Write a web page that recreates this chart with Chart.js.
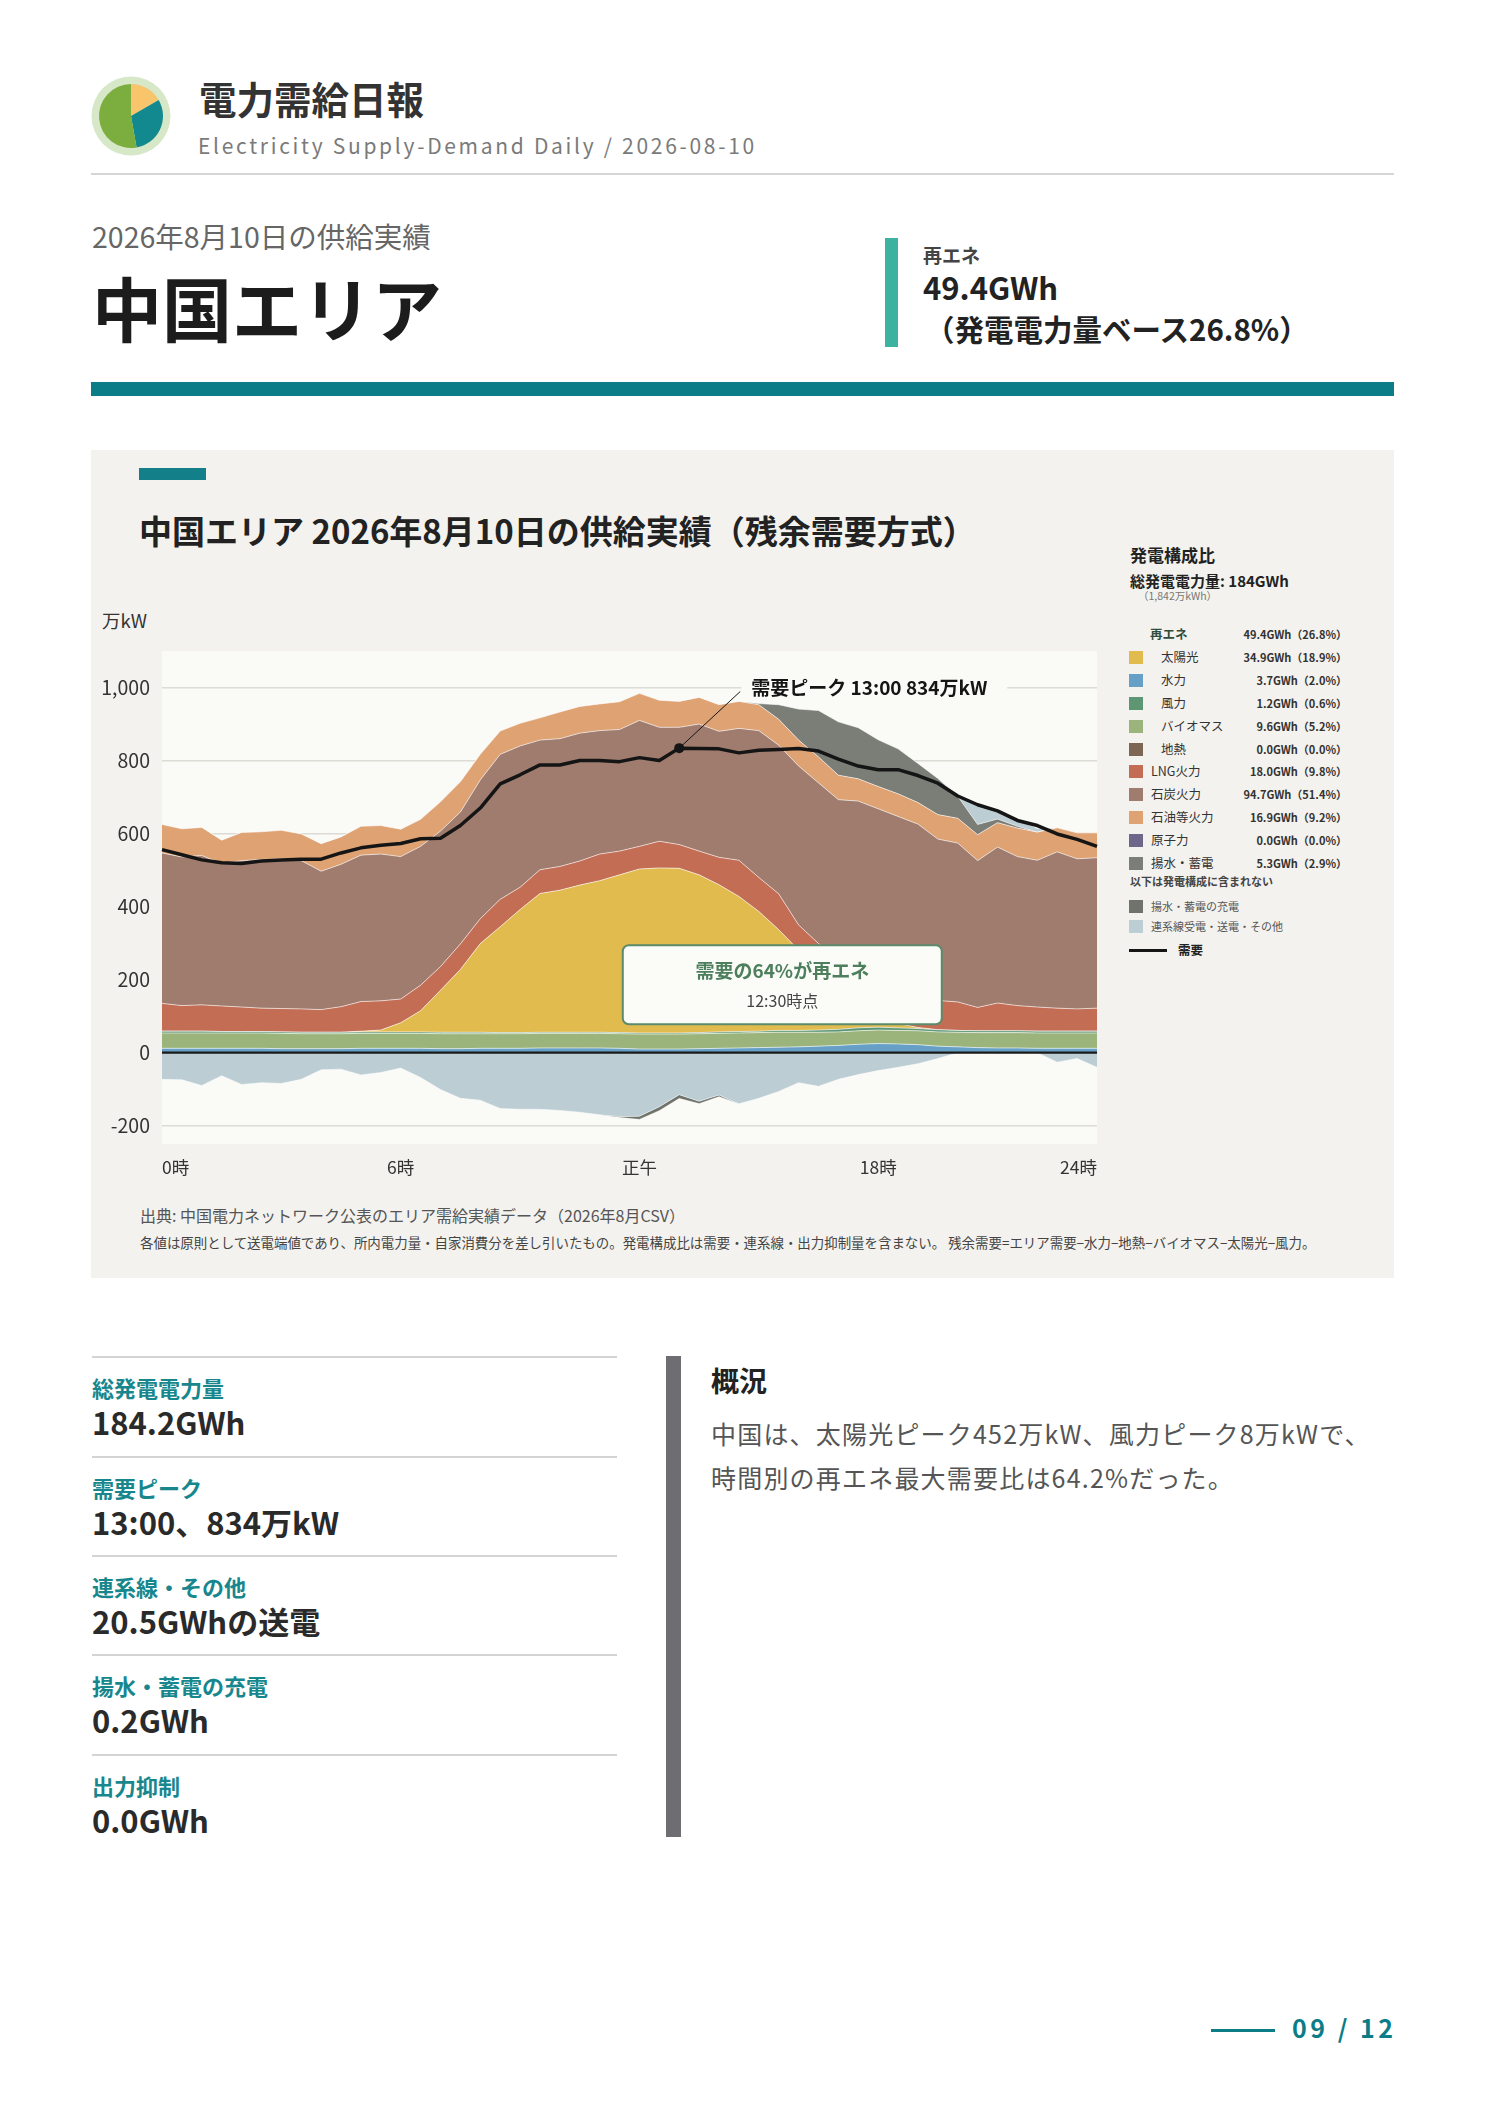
<!DOCTYPE html>
<html lang="ja">
<head>
<meta charset="utf-8">
<title>電力需給日報 中国エリア 2026-08-10</title>
<script src="https://cdn.jsdelivr.net/npm/chart.js@4.4.1/dist/chart.umd.min.js"></script>
<style>
  html, body { margin: 0; padding: 0; background: #fff; }
  body {
    width: 1488px; height: 2105px; position: relative; overflow: hidden;
    font-family: "Noto Sans CJK JP", "Noto Sans", sans-serif; color: #222;
  }
  .abs { position: absolute; white-space: nowrap; line-height: 1; }
  .bold { font-weight: 700; }
  #chartBox { position: absolute; left: 91px; top: 640px; width: 1020px; height: 540px; }
  .lg-sw { position: absolute; width: 14px; height: 13px; }
  .lg-name { font-size: 12.5px; color: #333; }
  .lg-val { font-size: 11px; color: #333; font-weight: 700; text-align: right; }
  .kpi-line { position: absolute; left: 92px; width: 525px; height: 2px; background: #d4d4d4; }
  .kpi-label { font-size: 22px; font-weight: 700; color: #17878d; }
  .kpi-value { font-size: 31px; font-weight: 700; color: #2a2a2a; }
</style>
</head>
<body>

<!-- header -->
<svg class="abs" style="left:91px;top:76px" width="80" height="80" viewBox="0 0 80 80">
  <circle cx="40" cy="40" r="39.5" fill="#d6e8c8"/>
  <path d="M40 40 L40 8 A32 32 0 0 1 67.7 24 Z" fill="#f8c46c"/>
  <path d="M40 40 L67.7 24 A32 32 0 0 1 45.6 71.5 Z" fill="#11898f"/>
  <path d="M40 40 L45.6 71.5 A32 32 0 1 1 40 8 Z" fill="#7cae3f"/>
</svg>
<div class="abs bold" style="left:199px;top:79px;font-size:37.5px;color:#333">電力需給日報</div>
<div class="abs" style="left:198px;top:135px;font-size:21px;color:#7a7a7a;letter-spacing:2.7px">Electricity Supply-Demand Daily / 2026-08-10</div>
<div class="abs" style="left:91px;top:173px;width:1303px;height:2px;background:#d6d6d6"></div>

<div class="abs" style="left:92px;top:222px;font-size:28.5px;color:#666">2026年8月10日の供給実績</div>
<div class="abs bold" style="left:92px;top:272px;font-size:70px;color:#1c1c1c">中国エリア</div>
<div class="abs" style="left:885px;top:238px;width:13px;height:109px;background:#3bb3a0"></div>
<div class="abs bold" style="left:923px;top:245px;font-size:19px;color:#444">再エネ</div>
<div class="abs bold" style="left:923px;top:271px;font-size:31px;color:#222">49.4GWh</div>
<div class="abs bold" style="left:925px;top:314px;font-size:29.5px;color:#222">（発電電力量ベース26.8%）</div>
<div class="abs" style="left:91px;top:382px;width:1303px;height:14px;background:#0b7d87"></div>

<!-- chart panel -->
<div class="abs" style="left:91px;top:450px;width:1303px;height:828px;background:#f3f2ee"></div>
<div class="abs" style="left:139px;top:468px;width:67px;height:12px;background:#127f89"></div>
<div class="abs bold" style="left:139px;top:514px;font-size:33px;color:#222">中国エリア 2026年8月10日の供給実績（残余需要方式）</div>
<div class="abs" style="left:102px;top:611px;font-size:18.5px;color:#333">万kW</div>
<div id="chartBox"><canvas id="supplyChart"></canvas></div>

<div id="legend"></div>

<div class="abs" style="left:140px;top:1207px;font-size:16px;color:#555">出典: 中国電力ネットワーク公表のエリア需給実績データ（2026年8月CSV）</div>
<div class="abs" style="left:140px;top:1236px;font-size:13.45px;color:#444">各値は原則として送電端値であり、所内電力量・自家消費分を差し引いたもの。発電構成比は需要・連系線・出力抑制量を含まない。 残余需要=エリア需要−水力−地熱−バイオマス−太陽光−風力。</div>

<!-- KPI -->
<div id="kpis"></div>

<!-- 概況 -->
<div class="abs" style="left:666px;top:1356px;width:15px;height:481px;background:#6e6e72"></div>
<div class="abs bold" style="left:711px;top:1366px;font-size:28px;color:#222">概況</div>
<div class="abs" style="left:711px;top:1411px;font-size:25px;line-height:44px;color:#555;letter-spacing:1.2px">中国は、太陽光ピーク452万kW、風力ピーク8万kWで、<br>時間別の再エネ最大需要比は64.2%だった。</div>

<!-- page number -->
<div class="abs" style="left:1211px;top:2029px;width:64px;height:3px;background:#0b7d87"></div>
<div class="abs bold" style="left:1292px;top:2015px;font-size:25px;color:#0b7d87;letter-spacing:3.5px">09 / 12</div>

<script>
'use strict';

// 30-minute slots
const timeLabels = ['0:00', '0:30', '1:00', '1:30', '2:00', '2:30', '3:00', '3:30',
  '4:00', '4:30', '5:00', '5:30', '6:00', '6:30', '7:00', '7:30',
  '8:00', '8:30', '9:00', '9:30', '10:00', '10:30', '11:00', '11:30',
  '12:00', '12:30', '13:00', '13:30', '14:00', '14:30', '15:00', '15:30',
  '16:00', '16:30', '17:00', '17:30', '18:00', '18:30', '19:00', '19:30',
  '20:00', '20:30', '21:00', '21:30', '22:00', '22:30', '23:00', '23:30'];

const xTickIndex = [0, 12, 24, 36, 47];
const xTickText = ['0時', '6時', '正午', '18時', '24時'];
const yTickValues = [-200, 0, 200, 400, 600, 800, 1000];

// generation by source (万kW)
const nuclear = [0, 0, 0, 0, 0, 0, 0, 0, 0, 0, 0, 0, 0, 0, 0, 0,
  0, 0, 0, 0, 0, 0, 0, 0, 0, 0, 0, 0, 0, 0, 0, 0,
  0, 0, 0, 0, 0, 0, 0, 0, 0, 0, 0, 0, 0, 0, 0, 0];
const hydro = [12, 12, 12, 12, 12, 12, 11, 11, 11, 11, 12, 12, 12, 12, 11, 11,
  12, 12, 12, 13, 13, 13, 13, 12, 10, 10, 10, 11, 12, 13, 14, 15,
  16, 18, 20, 23, 25, 24, 22, 18, 16, 14, 13, 13, 12, 12, 12, 12];
const biomass = [42, 42, 42, 42, 42, 42, 42, 41, 41, 41, 41, 41, 41, 41, 41, 41,
  40, 40, 40, 40, 40, 40, 40, 40, 41, 41, 41, 41, 41, 41, 41, 41,
  40, 38, 37, 37, 37, 37, 38, 39, 40, 41, 42, 42, 42, 42, 42, 42];
const wind = [5, 5, 5, 4, 4, 4, 4, 4, 4, 4, 4, 4, 4, 4, 4, 4,
  4, 3, 3, 3, 3, 3, 3, 3, 3, 3, 3, 3, 4, 4, 4, 5,
  5, 6, 7, 8, 8, 7, 6, 6, 5, 5, 5, 5, 5, 5, 5, 5];
const geothermal = [0, 0, 0, 0, 0, 0, 0, 0, 0, 0, 0, 0, 0, 0, 0, 0,
  0, 0, 0, 0, 0, 0, 0, 0, 0, 0, 0, 0, 0, 0, 0, 0,
  0, 0, 0, 0, 0, 0, 0, 0, 0, 0, 0, 0, 0, 0, 0, 0];
const solar = [0, 0, 0, 0, 0, 0, 0, 0, 0, 0, 2, 5, 25, 58, 115, 172,
  243, 290, 337, 380, 389, 403, 415, 432, 449, 452, 451, 432, 403, 370, 328, 276,
  220, 165, 115, 70, 35, 12, 3, 0, 0, 0, 0, 0, 0, 0, 0, 0];
const lng = [76, 70, 72, 70, 67, 64, 64, 64, 62, 70, 81, 80, 65, 70, 65, 70,
  68, 75, 61, 65, 65, 66, 73, 65, 62, 73, 65, 65, 75, 99, 93, 98,
  69, 72, 76, 66, 72, 75, 78, 80, 78, 64, 76, 69, 66, 63, 61, 63];
const coal = [412, 407, 409, 390, 401, 407, 410, 406, 379, 390, 401, 402, 390, 380, 371, 361,
  380, 397, 387, 355, 350, 350, 338, 333, 345, 312, 321, 348, 345, 361, 402, 407,
  435, 440, 438, 485, 491, 492, 479, 442, 435, 402, 427, 408, 402, 428, 411, 412];
const oil = [78, 77, 77, 64, 77, 76, 78, 73, 75, 75, 79, 78, 75, 74, 80, 83,
  70, 64, 62, 61, 73, 73, 73, 76, 74, 74, 71, 73, 73, 74, 71, 71,
  71, 71, 67, 61, 61, 62, 59, 67, 68, 71, 67, 78, 77, 66, 71, 68];
const pumped = [0, 0, 0, 0, 0, 0, 0, 0, 0, 0, 0, 0, 0, 0, 0, 0,
  0, 0, 0, 0, 0, 0, 0, 0, 0, 0, 0, 0, 0, 0, 3, 40,
  85, 127, 146, 140, 128, 123, 107, 99, 60, 28, 10, 5, 0, 0, 0, 0];
// interconnection: + receive, - send
const tieLine = [-73, -74, -90, -63, -87, -82, -84, -73, -47, -45, -61, -54, -42, -68, -101, -125,
  -130, -153, -155, -155, -158, -163, -170, -175, -174, -148, -115, -133, -116, -140, -125, -106,
  -82, -92, -73, -60, -49, -40, -30, -16, 5, 56, 27, 21, 10, -26, -16, -40];
const pumpCharge = [0, 0, 0, 0, 0, 0, 0, 0, 0, 0, 0, 0, 0, 0, 0, 0,
  0, 0, 0, 0, 0, 0, 0, -2, -8, -10, -10, -6, -4, 0, 0, 0,
  0, 0, 0, 0, 0, 0, 0, 0, 0, 0, 0, 0, 0, 0, 0, 0];
const demand = [556, 542, 528, 520, 518, 525, 528, 530, 530, 547, 561, 568, 573, 586, 587, 622,
  670, 736, 761, 788, 788, 800, 800, 797, 808, 800, 834, 833, 832, 821, 828, 830,
  833, 826, 804, 785, 775, 775, 759, 738, 703, 679, 662, 636, 622, 599, 584, 565];

// legend table
const legendNames = ['太陽光', '水力', '風力', 'バイオマス', '地熱', 'LNG火力', '石炭火力', '石油等火力', '原子力', '揚水・蓄電'];
const legendGWh = ['34.9GWh', '3.7GWh', '1.2GWh', '9.6GWh', '0.0GWh', '18.0GWh', '94.7GWh', '16.9GWh', '0.0GWh', '5.3GWh'];
const legendPct = ['18.9%', '2.0%', '0.6%', '5.2%', '0.0%', '9.8%', '51.4%', '9.2%', '0.0%', '2.9%'];

// colours
const C = {
  solar: '#e2bb4f', hydro: '#66a0c6', wind: '#5c9672', biomass: '#9bb47b', geothermal: '#7d6654',
  lng: '#c36d55', coal: '#a07c6f', oil: '#dfa273', nuclear: '#6e678a', pumped: '#7a7e76',
  charge: '#6f736b', tie: '#bccdd4'
};

const tieIn = tieLine.map(v => (v > 0 ? v : 0));
const tieOut = tieLine.map(v => (v < 0 ? v : 0));

// ---- HTML legend ----
let legendHtml = '';
function addDiv(style, cls, text) {
  legendHtml += `<div class="abs ${cls}" style="${style}">${text}</div>`;
}
addDiv('left:1130px;top:546px;font-size:17px;color:#222', 'bold', '発電構成比');
addDiv('left:1130px;top:573px;font-size:15px;color:#222', 'bold', '総発電電力量: 184GWh');
addDiv('left:1138px;top:591px;font-size:10.5px;color:#777', '', '（1,842万kWh）');
addDiv('left:1150px;top:628px;font-size:12.5px;color:#2f4d3c', 'bold', '再エネ');
addDiv('left:1197px;top:629px;width:150px', 'lg-val', '49.4GWh（26.8%）');

const legendColors = [C.solar, C.hydro, C.wind, C.biomass, C.geothermal, C.lng, C.coal, C.oil, C.nuclear, C.pumped];
const rowY = [657, 680, 703, 726, 749, 771, 794, 817, 840, 863];
for (let i = 0; i < legendNames.length; i++) {
  let y = rowY[i];
  let nameX = i < 5 ? 1161 : 1151;
  legendHtml += `<div class="lg-sw" style="left:1129px;top:${y - 6.5}px;background:${legendColors[i]}"></div>`;
  addDiv(`left:${nameX}px;top:${y - 6.5}px`, 'lg-name', legendNames[i]);
  addDiv(`left:1197px;top:${y - 5.5}px;width:150px`, 'lg-val', `${legendGWh[i]}（${legendPct[i]}）`);
}
addDiv('left:1130px;top:876px;font-size:11px;color:#444', 'bold', '以下は発電構成に含まれない');
legendHtml += `<div class="lg-sw" style="left:1129px;top:900px;background:${C.charge}"></div>`;
addDiv('left:1151px;top:901px;font-size:11px;color:#555', '', '揚水・蓄電の充電');
legendHtml += `<div class="lg-sw" style="left:1129px;top:920px;background:${C.tie}"></div>`;
addDiv('left:1151px;top:921px;font-size:11px;color:#555', '', '連系線受電・送電・その他');
legendHtml += '<div class="abs" style="left:1129px;top:949px;width:38px;height:3px;background:#151515"></div>';
addDiv('left:1178px;top:944px;font-size:12.5px;color:#222', 'bold', '需要');
document.getElementById('legend').innerHTML = legendHtml;

// ---- KPI list ----
const kpiLabels = ['総発電電力量', '需要ピーク', '連系線・その他', '揚水・蓄電の充電', '出力抑制'];
const kpiValues = ['184.2GWh', '13:00、834万kW', '20.5GWhの送電', '0.2GWh', '0.0GWh'];
const kpiTop = [1356, 1456, 1555, 1654, 1754];
let kpiHtml = '';
for (let i = 0; i < kpiLabels.length; i++) {
  kpiHtml += `<div class="kpi-line" style="top:${kpiTop[i]}px"></div>`;
  kpiHtml += `<div class="abs kpi-label" style="left:92px;top:${kpiTop[i] + 20}px">${kpiLabels[i]}</div>`;
  kpiHtml += `<div class="abs kpi-value" style="left:92px;top:${kpiTop[i] + 50}px">${kpiValues[i]}</div>`;
}
document.getElementById('kpis').innerHTML = kpiHtml;

// ---- chart ----
const FONT = '"Noto Sans CJK JP", "Noto Sans", sans-serif';
const PLOT_BG = '#fafaf6';

function area(label, data, color, first) {
  return {
    label: label,
    data: data,
    backgroundColor: color,
    borderColor: 'rgba(255,255,255,0.6)',
    borderWidth: 1,
    fill: first ? 'origin' : '-1',
    stack: 'pos',
    pointRadius: 0,
    tension: 0
  };
}

const zeroSeries = (arr) => arr.every(v => v === 0);

const datasets = [
  {
    label: '需要', data: demand, borderColor: '#151515', borderWidth: 3.5,
    fill: false, stack: 'demand', pointRadius: 0, tension: 0, borderJoinStyle: 'round'
  },
  area('水力', hydro, C.hydro, true),
  area('バイオマス', biomass, C.biomass),
  area('風力', wind, C.wind),
  area('地熱', geothermal, C.geothermal),
  area('原子力', nuclear, C.nuclear),
  area('太陽光', solar, C.solar),
  area('LNG火力', lng, C.lng),
  area('石炭火力', coal, C.coal),
  area('石油等火力', oil, C.oil),
  area('揚水・蓄電', pumped, C.pumped),
  area('連系線受電', tieIn, C.tie),
  {
    label: '連系線送電', data: tieOut, backgroundColor: C.tie, borderColor: 'rgba(255,255,255,0.5)',
    borderWidth: 1, fill: 'origin', stack: 'neg', pointRadius: 0, tension: 0
  },
  {
    label: '揚水・蓄電の充電', data: pumpCharge, backgroundColor: C.charge, borderColor: 'rgba(255,255,255,0.4)',
    borderWidth: 0.5, fill: '-1', stack: 'neg', pointRadius: 0, tension: 0
  }
];
datasets.forEach(ds => { if (ds.fill !== false && zeroSeries(ds.data)) ds.borderWidth = 0; });

const decorPlugin = {
  id: 'decor',
  beforeDraw(chart) {
    const { ctx, chartArea: a } = chart;
    ctx.save();
    ctx.fillStyle = PLOT_BG;
    ctx.fillRect(a.left, a.top, a.right - a.left, a.bottom - a.top);
    ctx.restore();
  },
  beforeDatasetsDraw(chart) {
    // backing for the peak label so the grid line breaks behind it
    const { ctx, scales: { x, y } } = chart;
    const peakIdx = demand.indexOf(Math.max(...demand));
    const px = x.getPixelForValue(peakIdx);
    const ly = y.getPixelForValue(1000);
    ctx.save();
    ctx.fillStyle = PLOT_BG;
    ctx.fillRect(px + 62, ly - 13, 266, 26);
    ctx.restore();
  },
  afterDatasetsDraw(chart) {
    const { ctx, chartArea: a, scales: { x, y } } = chart;
    const y0 = y.getPixelForValue(0);
    ctx.save();
    ctx.strokeStyle = '#1a1a1a';
    ctx.lineWidth = 2.2;
    ctx.beginPath();
    ctx.moveTo(a.left, y0);
    ctx.lineTo(a.right, y0);
    ctx.stroke();

    // peak marker + leader
    const peakIdx = demand.indexOf(Math.max(...demand));
    const px = x.getPixelForValue(peakIdx);
    const py = y.getPixelForValue(demand[peakIdx]);
    const ly = y.getPixelForValue(1000);
    ctx.fillStyle = '#151515';
    ctx.beginPath();
    ctx.arc(px, py, 5, 0, Math.PI * 2);
    ctx.fill();
    ctx.strokeStyle = '#151515';
    ctx.lineWidth = 1;
    ctx.beginPath();
    ctx.moveTo(px, py);
    ctx.lineTo(px + 61, ly + 4);
    ctx.stroke();
    ctx.font = `bold 19px ${FONT}`;
    ctx.fillStyle = '#151515';
    ctx.textAlign = 'left';
    ctx.textBaseline = 'middle';
    ctx.fillText(`需要ピーク ${timeLabels[peakIdx]} ${demand[peakIdx]}万kW`, px + 72, ly);

    // renewable share call-out
    const bx = x.getPixelForValue(31.18);
    const by = y.getPixelForValue(186);
    const bw = 319, bh = 79;
    ctx.beginPath();
    ctx.roundRect(bx - bw / 2, by - bh / 2, bw, bh, 6);
    ctx.fillStyle = '#fbfbf8';
    ctx.fill();
    ctx.lineWidth = 2;
    ctx.strokeStyle = '#5b8b6b';
    ctx.stroke();
    ctx.textAlign = 'center';
    ctx.fillStyle = '#4d7f5d';
    ctx.font = `bold 19px ${FONT}`;
    ctx.fillText('需要の64%が再エネ', bx, by - 14);
    ctx.fillStyle = '#444';
    ctx.font = `16px ${FONT}`;
    ctx.fillText('12:30時点', bx, by + 16);
    ctx.restore();
  }
};

const ctx = document.getElementById('supplyChart');
new Chart(ctx, {
  type: 'line',
  data: { labels: timeLabels, datasets: datasets },
  options: {
    responsive: true,
    maintainAspectRatio: false,
    animation: false,
    events: [],
    layout: { padding: { top: 11, right: 14, left: 0, bottom: 0 } },
    plugins: {
      legend: { display: false },
      tooltip: { enabled: false }
    },
    scales: {
      x: {
        type: 'category',
        offset: false,
        grid: { display: false, drawTicks: false },
        border: { display: false },
        afterFit(scale) {
          scale.height = 36;
          scale.paddingLeft = 0;
          scale.paddingRight = 0;
        },
        ticks: {
          autoSkip: false,
          maxRotation: 0,
          align: 'inner',
          padding: 13,
          color: '#333',
          font: { family: FONT, size: 17.5 },
          callback(value, index) {
            let k = xTickIndex.indexOf(index);
            return k >= 0 ? xTickText[k] : null;
          }
        }
      },
      y: {
        stacked: true,
        min: -250,
        max: 1100,
        afterBuildTicks(axis) { axis.ticks = yTickValues.map(v => ({ value: v })); },
        afterFit(scale) {
          scale.width = 71;
          // tick labels sit well inside the range, no extra room needed
          scale.paddingTop = 0;
          scale.paddingBottom = 0;
        },
        border: { display: false },
        grid: {
          drawTicks: false,
          lineWidth: 1.5,
          color: (c) => (c.tick && c.tick.value === 0 ? 'rgba(0,0,0,0)' : '#dcdcd5')
        },
        ticks: {
          padding: 12,
          color: '#333',
          font: { family: FONT, size: 19.5 },
          callback: (v) => v.toLocaleString('en-US')
        }
      }
    }
  },
  plugins: [decorPlugin]
});
</script>
</body>
</html>
